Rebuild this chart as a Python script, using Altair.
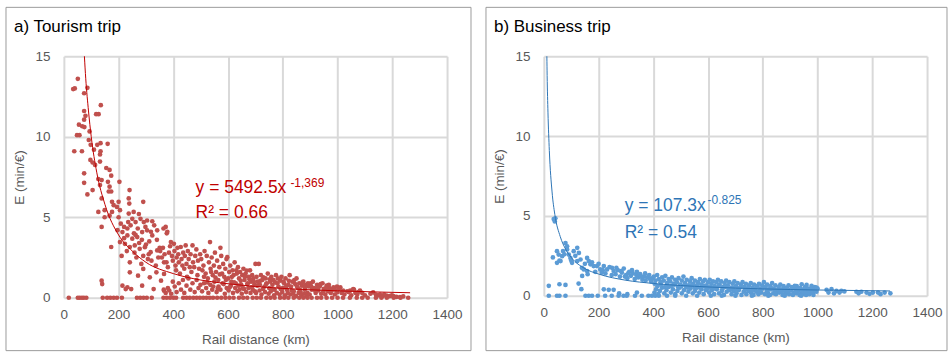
import altair as alt
import pandas as pd

# ---------------- data ----------------
x_ticks = [0, 200, 400, 600, 800, 1000, 1200, 1400]
y_ticks = [0, 5, 10, 15]

# Tourism trip: (rail distance km, E min/EUR)
tourism_points = [
    (34, 12.96), (51, 13.6), (40, 13.0), (86, 13.04), (74, 12.7), (135, 11.96), (74, 11.6), (79, 11.3),
    (74, 11.06), (118, 11.4), (127, 11.4), (55, 10.75), (67, 10.65), (75, 10.6), (48, 10.1), (57, 10.1),
    (94, 10.33), (38, 9.1), (66, 9.1), (91, 9.8), (98, 9.5), (110, 9.2), (122, 9.5), (134, 9.6),
    (134, 9.1), (132, 8.9), (160, 9.56), (97, 8.56), (105, 8.4), (114, 8.25), (132, 8.46), (74, 7.73),
    (74, 7.14), (86, 6.42), (105, 6.69), (126, 7.37), (138, 7.31), (132, 7.0), (155, 8.06), (167, 7.94),
    (173, 7.58), (161, 7.2), (167, 6.9), (164, 6.6), (173, 6.6), (138, 6.17), (149, 5.44), (126, 5.33),
    (176, 5.96), (182, 5.75), (194, 5.64), (200, 5.96), (203, 7.2), (240, 6.69), (167, 5.1), (176, 5.33),
    (205, 5.44), (200, 5.0), (237, 6.17), (239, 5.85), (290, 5.96), (237, 5.23), (255, 5.33), (138, 4.4),
    (173, 3.15), (149, 5.0),
    (208, 4.6), (220, 4.4), (232, 4.3), (244, 4.5), (262, 4.7), (280, 4.9), (292, 4.7), (304, 4.8),
    (323, 4.75), (214, 4.08), (232, 3.87), (250, 3.67), (268, 3.77), (286, 4.08), (304, 4.19), (323, 3.87),
    (341, 4.19), (205, 3.46), (223, 3.35), (241, 3.15), (259, 3.25), (277, 3.04), (296, 3.14), (317, 2.83),
    (341, 2.94), (211, 2.6), (241, 2.2), (265, 2.5), (283, 2.1), (307, 2.4), (336, 2.0), (366, 2.2),
    (241, 1.58), (271, 1.37), (290, 1.79), (314, 1.27), (338, 1.58), (355, 1.06), (286, 0.75), (328, 0.54),
    (138, 1.06), (140, 0.85), (214, 0.75), (232, 0.65), (246, 0.54), (226, 0.54), (366, 1.48), (366, 0.44),
    (256, 4.0), (270, 4.3), (285, 3.6), (298, 4.4), (312, 3.5), (330, 4.5), (318, 4.1), (275, 3.4),
    (262, 3.9), (300, 3.3), (340, 3.6), (350, 3.1), (310, 2.7), (290, 2.6), (320, 2.3), (345, 2.5),
    (258, 2.8), (230, 2.9), (220, 3.7), (250, 4.9), (274, 5.2), (235, 4.7), (196, 4.2), (364, 4.3), (376, 4.0),
    (352, 2.9), (358, 2.5), (362, 3.1), (368, 2.7), (372, 4.4), (378, 4.1), (375, 2.2), (380, 1.9),
    (384, 2.8), (388, 3.2), (391, 3.46), (395, 2.6), (398, 2.3), (402, 3.35), (404, 2.9), (408, 2.0),
    (410, 1.7), (412, 2.5), (415, 3.1), (418, 2.7), (420, 2.2), (424, 1.5), (427, 3.15), (430, 2.4),
    (433, 2.0), (436, 2.8), (440, 1.8), (442, 2.6), (445, 3.25), (448, 2.1), (450, 1.3), (453, 2.9),
    (456, 2.4), (460, 1.9), (463, 2.7), (466, 1.6), (470, 3.25), (472, 2.2), (476, 1.9), (480, 2.6),
    (484, 3.0), (488, 1.4), (490, 2.3), (494, 1.8), (498, 2.7),
    (365, 0.5), (372, 0.3), (380, 0.6), (385, 0.45), (392, 0.25), (398, 1.0), (405, 0.7), (412, 0.35),
    (420, 0.9), (428, 0.5), (435, 1.1), (440, 0.3), (448, 0.75), (455, 1.2), (462, 0.5), (470, 0.9),
    (478, 0.35), (485, 1.1), (492, 0.6), (499, 0.8),
    (502, 2.4), (506, 1.7), (510, 2.0), (514, 2.9), (518, 1.5), (522, 2.6), (526, 1.2), (530, 2.2),
    (534, 3.46), (536, 1.8), (540, 2.5), (544, 1.4), (548, 2.0), (552, 2.8), (556, 1.6), (560, 2.3),
    (564, 1.1), (568, 1.9), (572, 3.1), (575, 2.6), (578, 1.5), (582, 2.1), (586, 1.3), (590, 1.8),
    (594, 2.4), (597, 2.52), (600, 1.2), (604, 1.6), (608, 2.0), (612, 1.0), (616, 1.7), (620, 1.4),
    (624, 2.2), (628, 0.9), (632, 1.5), (636, 1.9), (640, 1.2), (644, 1.6), (648, 0.8), (652, 1.4),
    (656, 1.8), (660, 1.1), (664, 1.5), (668, 1.69), (672, 0.9), (676, 1.3), (680, 1.7), (684, 1.0),
    (688, 1.4), (692, 1.2), (696, 0.8), (700, 2.1),
    (505, 0.4), (512, 0.9), (520, 0.6), (528, 0.3), (535, 0.8), (542, 0.5), (550, 1.0), (558, 0.35),
    (565, 0.7), (572, 0.5), (580, 0.9), (588, 0.25), (595, 0.6), (602, 0.45), (610, 0.75), (618, 0.3),
    (626, 0.6), (634, 0.4), (642, 0.5), (650, 0.25), (658, 0.55), (666, 0.35), (674, 0.6), (682, 0.3),
    (690, 0.5), (698, 0.4),
    (704, 1.3), (708, 1.0), (712, 2.1), (716, 0.8), (720, 1.4), (725, 1.1), (729, 1.27), (733, 0.7),
    (737, 1.2), (741, 0.9), (745, 1.5), (750, 0.6), (754, 1.0), (758, 1.3), (762, 0.8), (766, 1.1),
    (770, 0.5), (775, 1.4), (780, 0.9), (784, 0.7), (790, 1.06), (795, 1.3), (800, 0.6), (805, 0.9),
    (810, 1.2), (815, 0.5), (820, 0.8), (825, 1.4), (830, 0.7), (835, 1.0), (840, 0.4), (845, 0.85),
    (850, 1.2), (855, 0.6), (860, 0.9), (865, 0.35), (870, 0.75), (875, 1.0), (880, 0.5), (885, 0.8),
    (890, 0.3), (895, 0.7),
    (702, 0.3), (715, 0.45), (722, 0.2), (735, 0.35), (748, 0.25), (756, 0.4), (768, 0.15), (778, 0.3),
    (788, 0.2), (798, 0.35), (808, 0.15), (818, 0.3), (828, 0.2), (838, 0.25), (848, 0.1), (858, 0.3),
    (868, 0.15), (878, 0.25), (888, 0.1), (898, 0.2),
    (902, 0.9), (906, 0.5), (910, 1.0), (915, 0.6), (920, 0.3), (925, 0.8), (930, 0.45), (935, 0.7),
    (940, 0.25), (945, 0.9), (950, 0.55), (955, 0.2), (960, 0.75), (965, 0.4), (970, 0.6), (975, 0.3),
    (980, 0.5), (985, 0.65), (990, 0.2), (995, 0.45), (1000, 0.35),
    (1010, 0.65), (1015, 0.3), (1025, 0.2), (1035, 0.4), (1046, 0.44), (1050, 0.15), (1057, 0.54),
    (1065, 0.3), (1072, 0.2), (1082, 0.44), (1090, 0.3), (1100, 0.15), (1130, 0.33), (1140, 0.2),
    (1150, 0.15), (1155, 0.2), (1165, 0.1), (1179, 0.14), (1190, 0.1), (1204, 0.1), (1215, 0.05),
    (1228, 0.04), (1258, 0.0),
    (512, 1.3), (524, 0.95), (538, 1.6), (546, 0.7), (554, 1.25), (562, 0.55), (570, 1.45), (584, 0.85),
    (592, 1.1), (606, 0.65), (614, 1.3), (622, 0.95), (630, 1.7), (638, 0.75), (646, 1.05), (654, 0.6),
    (662, 1.3), (670, 0.85), (678, 1.15), (686, 0.65), (694, 1.0), (706, 0.75), (718, 1.05), (728, 0.55),
    (739, 0.85), (752, 1.15), (760, 0.5), (772, 0.95), (782, 1.2), (792, 0.55), (802, 1.0), (812, 0.7),
    (822, 1.05), (832, 0.45), (842, 1.1), (852, 0.7), (862, 0.5), (872, 0.95), (882, 0.65), (892, 0.9),
    (904, 0.7), (918, 0.45), (928, 0.6), (938, 0.85), (948, 0.4), (958, 0.6), (968, 0.8), (978, 0.45),
    (988, 0.6), (998, 0.7), (1005, 0.55), (1020, 0.45), (1040, 0.35), (1060, 0.5), (1075, 0.35),
    (1120, 0.25), (1170, 0.2), (1198, 0.15), (1240, 0.08),
]
tourism_zero_dist = [18, 51, 58, 66, 73, 82, 142, 158, 170, 182, 194, 212, 267, 279, 291, 303, 321,
                     364, 376, 388, 400, 410, 436, 448, 460, 473, 485, 497, 509, 521, 533, 545, 560,
                     575, 590, 605, 620, 640, 655, 670, 690, 705, 720, 740, 755, 770, 790, 805, 820,
                     840, 860, 875, 890, 905, 925, 940, 960, 980, 1000, 1020, 1045, 1070, 1090, 1110,
                     1140, 1160, 1180, 1205, 1230]

# Business trip
business_points = [
    (42, 4.85), (40, 4.65), (36, 4.8), (79, 3.3), (85, 3.1), (33, 2.4), (48, 2.79), (54, 2.58),
    (67, 2.48), (61, 2.17), (48, 2.06), (85, 2.9), (91, 2.58), (97, 2.37), (109, 2.79), (122, 3.0),
    (128, 2.68), (103, 2.06), (122, 2.17), (134, 2.27), (158, 2.37), (164, 2.17), (170, 1.97), (182, 1.86),
    (146, 1.65), (158, 1.55), (140, 1.24), (194, 1.86), (206, 1.65), (219, 1.86), (231, 1.65), (249, 1.75),
    (57, 2.2), (75, 2.6), (70, 2.8), (100, 2.2), (115, 2.5), (139, 1.75), (150, 2.0), (176, 2.1),
    (188, 1.5), (200, 2.0), (212, 1.45), (160, 1.35),
    (18, 0.62), (57, 0.72), (79, 0.68), (127, 0.76), (137, 0.41), (219, 0.4), (237, 0.37), (255, 0.37),
    (340, 0.2), (275, 0.15), (305, 0.1),
    (255, 1.55), (262, 1.35), (270, 1.6), (278, 1.2), (285, 1.45), (292, 1.7), (300, 1.3), (305, 1.1),
    (312, 1.5), (318, 1.25), (325, 1.4), (332, 1.05), (338, 1.3), (345, 1.15), (352, 1.35), (360, 1.0),
    (366, 1.2), (372, 0.95), (378, 1.15), (385, 1.3), (392, 0.9), (398, 1.1), (215, 1.6), (225, 1.4),
    (240, 1.8), (248, 1.3), (265, 1.75), (282, 1.55), (296, 1.2), (308, 1.4), (322, 1.6), (340, 1.5),
    (355, 1.2), (370, 1.4), (388, 1.05),
    (402, 1.2), (408, 0.95), (414, 1.3), (420, 1.05), (426, 0.85), (432, 1.15), (438, 0.95), (444, 1.25),
    (450, 0.8), (456, 1.05), (462, 0.9), (468, 1.15), (474, 0.75), (480, 1.0), (486, 0.85), (492, 1.1),
    (498, 0.7), (504, 0.95), (510, 1.2), (516, 0.8), (522, 1.0), (528, 0.65), (534, 0.9), (540, 1.1),
    (546, 0.75), (552, 0.95), (558, 0.6), (564, 0.85), (570, 1.05), (576, 0.7), (582, 0.9), (588, 1.0),
    (594, 0.65), (600, 0.85),
    (404, 0.2), (410, 0.4), (418, 0.1), (424, 0.3), (432, 0.5), (440, 0.15), (448, 0.35), (456, 0.55),
    (464, 0.2), (472, 0.4), (480, 0.1), (488, 0.3), (496, 0.5), (504, 0.15), (512, 0.35), (520, 0.55),
    (528, 0.25), (536, 0.45), (544, 0.15), (552, 0.3), (560, 0.5), (568, 0.2), (576, 0.4), (584, 0.1),
    (592, 0.35), (600, 0.5),
    (606, 1.0), (612, 0.75), (618, 0.9), (624, 0.6), (630, 0.85), (636, 1.0), (642, 0.7), (648, 0.9),
    (654, 0.55), (660, 0.8), (666, 0.95), (672, 0.65), (678, 0.85), (684, 0.5), (690, 0.75), (696, 0.9),
    (702, 0.6), (708, 0.8), (714, 0.45), (720, 0.7), (726, 0.85), (732, 0.55), (738, 0.75), (744, 0.4),
    (750, 0.65), (756, 0.8), (762, 0.5), (768, 0.7), (774, 0.35), (780, 0.6), (786, 0.75), (792, 0.45),
    (798, 0.65),
    (604, 0.2), (614, 0.35), (622, 0.1), (632, 0.4), (640, 0.15), (650, 0.3), (658, 0.05), (668, 0.25),
    (676, 0.4), (686, 0.1), (694, 0.3), (704, 0.15), (712, 0.35), (722, 0.05), (730, 0.25), (740, 0.1),
    (748, 0.3), (758, 0.15), (766, 0.05), (776, 0.25), (784, 0.1), (794, 0.2),
    (804, 0.85), (810, 0.55), (816, 0.7), (822, 0.4), (828, 0.6), (834, 0.8), (840, 0.45), (846, 0.65),
    (852, 0.3), (858, 0.55), (864, 0.7), (870, 0.4), (876, 0.6), (882, 0.25), (888, 0.5), (894, 0.65),
    (900, 0.35), (906, 0.55), (912, 0.2), (918, 0.45), (924, 0.6), (930, 0.3), (936, 0.5), (942, 0.15),
    (948, 0.4), (954, 0.55), (960, 0.3), (966, 0.45), (972, 0.2), (978, 0.5), (984, 0.35), (990, 0.55),
    (996, 0.25), (1000, 0.45),
    (808, 0.1), (818, 0.2), (826, 0.05), (838, 0.15), (848, 0.1), (860, 0.2), (872, 0.05), (884, 0.15),
    (896, 0.1), (910, 0.05), (922, 0.15), (934, 0.05), (946, 0.1), (958, 0.05), (970, 0.1), (985, 0.05),
    (917, 0.62), (942, 0.72), (960, 0.68), (978, 0.62), (996, 0.51),
    (1033, 0.37), (1051, 0.41), (1069, 0.31), (1087, 0.31), (1098, 0.27),
    (1142, 0.25), (1160, 0.25), (1179, 0.2), (1202, 0.2), (1221, 0.2), (1245, 0.2), (1266, 0.15),
    (1040, 0.2), (1060, 0.15), (1080, 0.2), (1150, 0.15), (1190, 0.12), (1230, 0.1),
    (405, 0.75), (415, 0.6), (428, 0.7), (442, 0.55), (452, 0.65), (466, 0.6), (478, 0.7), (490, 0.55),
    (502, 0.6), (514, 0.7), (526, 0.5), (538, 0.65), (550, 0.55), (562, 0.7), (574, 0.5), (586, 0.6),
    (598, 0.45), (610, 0.55), (626, 0.45), (638, 0.6), (652, 0.4), (664, 0.55), (680, 0.35), (692, 0.5),
    (706, 0.4), (718, 0.55), (734, 0.35), (746, 0.5), (760, 0.3), (772, 0.45), (788, 0.3), (800, 0.45),
    (814, 0.3), (830, 0.4), (844, 0.25), (856, 0.4), (868, 0.25), (880, 0.35), (892, 0.25), (904, 0.4),
    (920, 0.25), (932, 0.4), (944, 0.3), (956, 0.2), (968, 0.35), (980, 0.2), (992, 0.3),
]
business_zero_dist = [18, 48, 57, 79, 152, 164, 176, 197, 224, 248, 273, 291, 303, 333, 358, 382, 395,
                      407, 420, 450, 480, 520, 560, 610, 650, 700, 760, 820, 880, 940]

# Fitted power trend lines
tourism_fit_dist = [75, 80, 90, 100, 120, 150, 200, 250, 300, 400, 500, 600, 800, 1000, 1265]
tourism_fit_e = [15.0, 13.6, 11.6, 10.0, 7.8, 5.8, 3.9, 2.9, 2.2, 1.5, 1.1, 0.87, 0.58, 0.43, 0.31]
business_fit_dist = [11, 12, 15, 20, 30, 40, 60, 80, 100, 150, 200, 300, 400, 600, 800, 1000, 1265]
business_fit_e = [15.0, 13.8, 11.5, 9.1, 6.5, 5.1, 3.7, 2.9, 2.4, 1.7, 1.36, 0.97, 0.77, 0.55, 0.43, 0.36, 0.30]

# ---------------- chart ----------------
FONT = "Liberation Sans"


def make_df(points, zeros):
    df = pd.DataFrame(points, columns=["dist", "e"])
    z = pd.DataFrame({"dist": zeros, "e": [0.0] * len(zeros)})
    return pd.concat([df, z], ignore_index=True)


def panel(points, zeros, fit_d, fit_e, pt_color, line_color, text_color, title,
          eq_main, eq_exp, r2, h, frame_right,
          eq_x, eq_y, exp_x, exp_y, r2_y):
    df = make_df(points, zeros)
    fit = pd.DataFrame({"dist": fit_d, "e": fit_e})
    one = pd.DataFrame({"k": [0]})

    xenc = alt.X("dist:Q", title="Rail distance (km)",
                 scale=alt.Scale(domain=[0, 1400], nice=False),
                 axis=alt.Axis(values=x_ticks, format="d"))
    yenc = alt.Y("e:Q", title="E (min/€)",
                 scale=alt.Scale(domain=[0, 15], nice=False),
                 axis=alt.Axis(values=y_ticks, format="d"))

    frame = alt.Chart(one).mark_rect(fillOpacity=0, stroke="#9c9c9c", strokeWidth=1).encode(
        x=alt.value(-58), x2=alt.value(frame_right), y=alt.value(-49), y2=alt.value(295))
    pts = alt.Chart(df).mark_circle(size=22, color=pt_color, opacity=1).encode(x=xenc, y=yenc)
    line = alt.Chart(fit).mark_line(color=line_color, strokeWidth=1, interpolate="monotone").encode(x=xenc, y=yenc)
    ttl = alt.Chart(one).mark_text(text=title, align="left", baseline="alphabetic", font=FONT,
                                   fontSize=17, color="#000000").encode(x=alt.value(-50), y=alt.value(-24))
    t1 = alt.Chart(one).mark_text(text=eq_main, align="left", baseline="alphabetic", font=FONT,
                                  fontSize=17.5, color=text_color).encode(x=alt.value(eq_x), y=alt.value(eq_y))
    t2 = alt.Chart(one).mark_text(text=eq_exp, align="left", baseline="alphabetic", font=FONT,
                                  fontSize=12, color=text_color).encode(x=alt.value(exp_x), y=alt.value(exp_y))
    t3 = alt.Chart(one).mark_text(text=r2, align="left", baseline="alphabetic", font=FONT,
                                  fontSize=17.5, color=text_color).encode(x=alt.value(eq_x), y=alt.value(r2_y))
    return alt.layer(frame, pts, line, ttl, t1, t2, t3).properties(width=384, height=h)


left = panel(tourism_points, tourism_zero_dist, tourism_fit_dist, tourism_fit_e,
             "#c0504d", "#c00000", "#c00000", "a) Tourism trip",
             "y = 5492.5x", "-1,369", "R² = 0.66", 242, 408,
             132, 137, 227, 131, 162)
right = panel(business_points, business_zero_dist, business_fit_dist, business_fit_e,
              "#5b9bd5", "#2e75b6", "#2e75b6", "b) Business trip",
              "y = 107.3x", "-0.825", "R² = 0.54", 240, 404,
              81, 155, 164, 148, 182)

chart = alt.hconcat(left, right, spacing=13).properties(
    padding={"left": 5, "top": 6, "right": 0, "bottom": 0}
).configure_view(stroke=None).configure_axis(
    gridColor="#d9d9d9", gridWidth=2, domain=False, ticks=False,
    labelColor="#595959", labelFont=FONT, labelFontSize=13.5,
    titleColor="#595959", titleFont=FONT, titleFontSize=13.5, titleFontWeight="normal"
).configure_axisX(labelPadding=10, titlePadding=11, labelFlush=False).configure_axisY(
    labelPadding=14, titlePadding=8)

chart.save("out.html", embed_options={"renderer": "svg", "actions": False})
